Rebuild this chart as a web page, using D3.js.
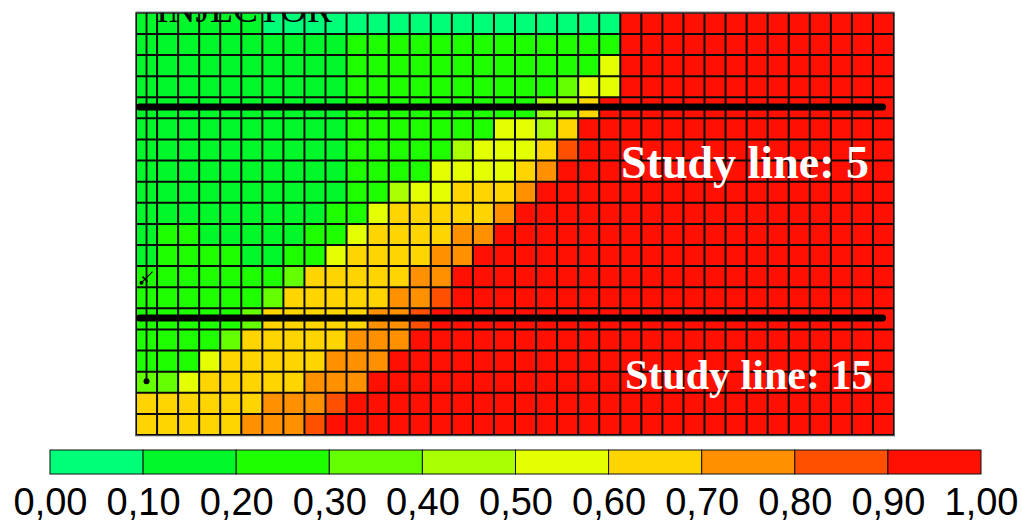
<!DOCTYPE html>
<html>
<head>
<meta charset="utf-8">
<script src="https://cdn.jsdelivr.net/npm/d3@7"></script>
<style>
  html, body { margin: 0; padding: 0; background: #fff; }
  svg { display: block; }
</style>
</head>
<body>
<svg id="chart" width="1022" height="525"></svg>
<script>
// decile class (0..9) of every cell, one string per grid row, left to right
const gridRows = [
  '111111 000000 000000 000009 999999 999999',
  '111111 111122 222222 222229 999999 999999',
  '111111 111122 222222 222259 999999 999999',
  '111111 111122 222222 223559 999999 999999',
  '111111 111122 222222 244699 999999 999999',
  '111111 111122 222225 546999 999999 999999',
  '111111 111122 222455 568999 999999 999999',
  '111111 111122 225555 679999 999999 999999',
  '111111 111122 455666 799999 999999 999999',
  '111111 111225 666667 999999 999999 999999',
  '122111 112256 666779 999999 999999 999999',
  '122221 122566 667799 999999 999999 999999',
  '222222 236666 677999 999999 999999 999999',
  '222222 366666 778999 999999 999999 999999',
  '222223 666667 789999 999999 999999 999999',
  '222236 666677 799999 999999 999999 999999',
  '222566 666777 999999 999999 999999 999999',
  '335666 667779 999999 999999 999999 999999',
  '666666 777899 999999 999999 999999 999999',
  '666667 778999 999999 999999 999999 999999'
];

const binColors = ['#00ff78', '#00f82a', '#1eff00', '#64ff00', '#a8ff00',
                   '#e4ff00', '#ffd500', '#ff9000', '#ff5000', '#ff1000'];
const legendTicks = [0, 0.1, 0.2, 0.3, 0.4, 0.5, 0.6, 0.7, 0.8, 0.9, 1.0];
const studyLines = [5, 15];          // 1-based grid rows
const injectorName = 'INJECTOR';
const wellColumn = 1;                // 1-based
const wellBottomRow = 18;
const markerRow = 13;

const cells = [];
gridRows.forEach((s, r) => {
  s.replace(/\s/g, '').split('').forEach((ch, c) => {
    cells.push({ row: r + 1, col: c + 1, value: (+ch + 0.5) / 10 });
  });
});
const nCols = gridRows[0].replace(/\s/g, '').length;
const nRows = gridRows.length;

const svg = d3.select('#chart');

const x = d3.scaleBand().domain(d3.range(1, nCols + 1)).range([136, 894]).padding(0);
const y = d3.scaleBand().domain(d3.range(1, nRows + 1)).range([12.8, 435]).padding(0);
const color = d3.scaleThreshold().domain(legendTicks.slice(1, -1)).range(binColors);

svg.append('defs').append('clipPath').attr('id', 'gridClip')
  .append('rect').attr('x', 136).attr('y', 12.8).attr('width', 758).attr('height', 422.2);

const gGrid = svg.append('g');
gGrid.selectAll('rect.cell').data(cells).join('rect')
  .attr('class', 'cell')
  .attr('x', d => x(d.col))
  .attr('y', d => y(d.row))
  .attr('width', x.bandwidth() + 0.3)
  .attr('height', y.bandwidth() + 0.3)
  .attr('fill', d => color(d.value));

// cell borders
const vEdges = d3.range(1, nCols + 1).map(c => x(c)).concat([x.range()[1]]);
const hEdges = d3.range(1, nRows + 1).map(r => y(r)).concat([y.range()[1]]);
gGrid.selectAll('line.v').data(vEdges).join('line')
  .attr('class', 'v')
  .attr('x1', d => d).attr('x2', d => d)
  .attr('y1', y.range()[0]).attr('y2', y.range()[1])
  .attr('stroke', '#0a0a0a').attr('stroke-width', 2);
gGrid.selectAll('line.h').data(hEdges).join('line')
  .attr('class', 'h')
  .attr('y1', d => d).attr('y2', d => d)
  .attr('x1', x.range()[0]).attr('x2', x.range()[1])
  .attr('stroke', '#0a0a0a').attr('stroke-width', 2);

gGrid.append('rect')
  .attr('x', 135.5).attr('y', 12.8).attr('width', 759).attr('height', 423)
  .attr('fill', 'none').attr('stroke', '#666').attr('stroke-width', 1);

// injector label, clipped by the top of the grid as in the source plot
svg.append('g').attr('clip-path', 'url(#gridClip)')
  .append('text')
  .attr('x', 156).attr('y', 22)
  .attr('textLength', 176).attr('lengthAdjust', 'spacingAndGlyphs')
  .style('font-family', '"Liberation Serif", "Times New Roman", serif')
  .style('font-size', '38px')
  .attr('fill', '#000')
  .text(injectorName);

// well trace
const wx = x(wellColumn) + x.bandwidth() / 2;
const gWell = svg.append('g');
gWell.append('line')
  .attr('x1', wx).attr('x2', wx)
  .attr('y1', y.range()[0]).attr('y2', y(wellBottomRow) + y.bandwidth() / 2)
  .attr('stroke', '#000').attr('stroke-width', 1.8);
gWell.append('circle')
  .attr('cx', wx).attr('cy', y(wellBottomRow) + y.bandwidth() / 2 - 1)
  .attr('r', 3).attr('fill', '#000');
const my = y(markerRow) + y.bandwidth() / 2;
gWell.append('line')
  .attr('x1', wx - 6).attr('y1', my + 7).attr('x2', wx + 6).attr('y2', my - 5)
  .attr('stroke', '#000').attr('stroke-width', 1.2);
gWell.append('line')
  .attr('x1', wx - 4).attr('y1', my).attr('x2', wx + 1).attr('y2', my + 5)
  .attr('stroke', '#000').attr('stroke-width', 1.6);
gWell.append('circle')
  .attr('cx', wx - 5).attr('cy', my + 6).attr('r', 2).attr('fill', '#000');

// study lines
const gStudy = svg.append('g');
gStudy.selectAll('line').data(studyLines).join('line')
  .attr('x1', x.range()[0] + 3.5).attr('x2', 882.5)
  .attr('y1', d => y(d) + y.bandwidth() / 2 - 0.8)
  .attr('y2', d => y(d) + y.bandwidth() / 2 - 0.8)
  .attr('stroke', '#000').attr('stroke-width', 7).attr('stroke-linecap', 'round');

gStudy.selectAll('text').data(studyLines).join('text')
  .attr('x', d => d < 10 ? 621 : 625)
  .attr('y', d => y(d) + y.bandwidth() / 2 + 70)
  .attr('fill', '#fff')
  .style('font-family', '"Liberation Serif", "Times New Roman", serif')
  .style('font-weight', 'bold')
  .style('font-size', d => d < 10 ? '46px' : '42px')
  .text(d => `Study line: ${d}`);

// colour legend
const lx = d3.scaleLinear().domain([0, 1]).range([50, 981]);
const gLegend = svg.append('g');
gLegend.selectAll('rect').data(binColors).join('rect')
  .attr('x', (_, i) => lx(legendTicks[i]))
  .attr('y', 450)
  .attr('width', (_, i) => lx(legendTicks[i + 1]) - lx(legendTicks[i]))
  .attr('height', 24)
  .attr('fill', d => d)
  .attr('stroke', '#111').attr('stroke-width', 1);

const commaFmt = d3.formatLocale({ decimal: ',', thousands: '.', grouping: [3], currency: ['', ''] }).format('.2f');
const axis = d3.axisBottom(lx).tickValues(legendTicks).tickFormat(commaFmt).tickSize(0).tickPadding(0);
const gAxis = gLegend.append('g').attr('transform', 'translate(0,488)').call(axis);
gAxis.select('.domain').remove();
gAxis.selectAll('text')
  .attr('dy', '0.71em')
  .style('font-family', '"Liberation Sans", Arial, sans-serif')
  .style('font-size', '38px')
  .attr('fill', '#000');
</script>
</body>
</html>
